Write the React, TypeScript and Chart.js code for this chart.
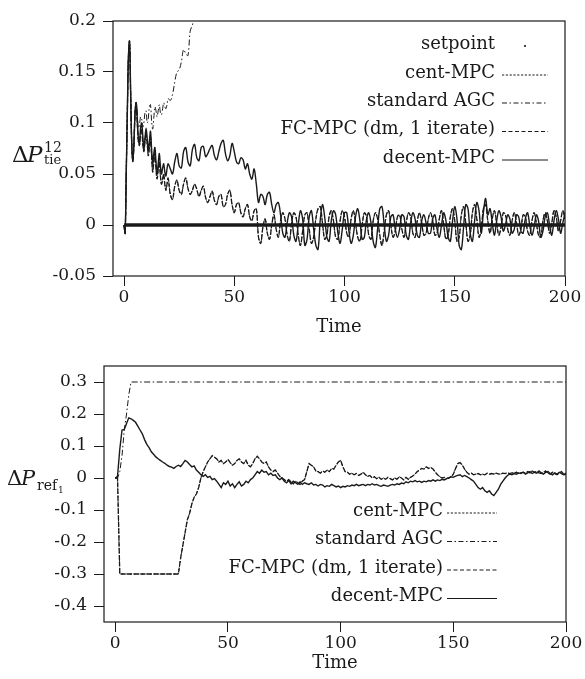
import React, { useEffect, useRef } from "react";
import { Chart, registerables } from "chart.js";
Chart.register(...registerables);

const SERIF = "'DejaVu Serif', serif";
const INK = "#1a1a1a";

// ---------------- Top chart (ΔP_tie^12) ----------------
const topXTicks = [0, 50, 100, 150, 200];
const topYTicks = [-0.05, 0, 0.05, 0.1, 0.15, 0.2];
const topYTickLabels = ["-0.05", "0", "0.05", "0.1", "0.15", "0.2"];

// early part sampled every 0.5 (t = 0 .. 20), late part every 1 (t = 21 .. )
const setpointTimes = [0, 200];
const setpointTop = [0, 0];

const decentTopEarly = [
  0, -0.008, 0.05, 0.11, 0.165, 0.18, 0.13, 0.08, 0.062, 0.08,
  0.11, 0.12, 0.105, 0.085, 0.08, 0.095, 0.1, 0.088, 0.075, 0.085,
  0.095, 0.085, 0.073, 0.082, 0.092, 0.075, 0.06, 0.07, 0.076, 0.062,
  0.05, 0.06, 0.07, 0.058, 0.05, 0.056, 0.06, 0.052, 0.048, 0.055,
  0.06,
];
const decentTopLate = [
  0.055, 0.05, 0.062, 0.07, 0.058, 0.056, 0.072, 0.076, 0.062, 0.058,
  0.074, 0.079, 0.066, 0.063, 0.076, 0.077, 0.067, 0.07, 0.075, 0.078,
  0.068, 0.064, 0.072, 0.08, 0.083, 0.07, 0.063, 0.068, 0.08, 0.072,
  0.062, 0.06, 0.066, 0.064, 0.055, 0.06, 0.05, 0.045, 0.055, 0.04,
  0.022, 0.03, 0.028, 0.02, 0.03, 0.032, 0.02, 0.012, 0.02, 0.022,
  0.01, -0.008, -0.012, 0.002, 0.012, 0.008, -0.01, -0.016, 0.0, 0.014,
  0.006, -0.02, -0.014, 0.008, 0.014, -0.004, -0.02, -0.024, 0.005, 0.02,
  0.008, -0.012, -0.016, 0.004, 0.014, 0.01, -0.008, -0.018, -0.004, 0.012,
  0.012, -0.006, -0.018, -0.01, 0.008, 0.016, 0.004, -0.014, -0.012, 0.006,
  0.012, 0.002, -0.016, -0.022, -0.004, 0.016, 0.018, 0.0, -0.016, -0.01,
  0.008, 0.01, -0.004, -0.012, -0.004, 0.01, 0.008, -0.01, -0.014, 0.002,
  0.012, 0.006, -0.01, -0.012, 0.004, 0.01, 0.002, -0.008, -0.008, 0.006,
  0.01, -0.004, -0.012, 0.0, 0.012, 0.004, -0.012, -0.016, 0.004, 0.018,
  0.006, -0.02, -0.024, -0.002, 0.02, 0.016, -0.008, -0.016, 0.004, 0.022,
  0.014, -0.008, 0.012, 0.026, 0.01, 0.016, 0.002, -0.01, 0.004, 0.014,
  0.008, -0.006, 0.0, 0.01, 0.006, -0.008, -0.004, 0.01, 0.008, -0.006,
  -0.008, 0.006, 0.012, 0.0, -0.01, -0.002, 0.01, 0.004, -0.012, -0.006,
  0.008, 0.012, 0.0, -0.01, 0.004, 0.014, 0.006, -0.008, 0.002, 0.012,
];

const fcTopEarly = [
  0, -0.008, 0.05, 0.11, 0.165, 0.18, 0.13, 0.08, 0.062, 0.08,
  0.11, 0.12, 0.1, 0.082, 0.078, 0.09, 0.094, 0.08, 0.072, 0.082,
  0.09, 0.08, 0.068, 0.076, 0.086, 0.068, 0.052, 0.062, 0.07, 0.055,
  0.045, 0.055, 0.062, 0.048, 0.04, 0.045, 0.05, 0.04, 0.034, 0.04,
  0.046,
];
const fcTopLate = [
  0.03, 0.025, 0.038, 0.044, 0.034, 0.03, 0.04, 0.046, 0.036, 0.03,
  0.034, 0.04, 0.035, 0.028, 0.034, 0.038, 0.027, 0.022, 0.028, 0.033,
  0.024, 0.02, 0.028, 0.03, 0.018, 0.02, 0.03, 0.034, 0.02, 0.012,
  0.02, 0.022, 0.012, 0.008, 0.016, 0.02, 0.008, 0.004, 0.014, 0.016,
  -0.012, -0.018, -0.002, 0.006, -0.008, -0.014, 0.0, 0.01, -0.004, -0.012,
  0.004, 0.012, 0.006, -0.01, -0.016, 0.002, 0.012, 0.008, -0.01, -0.02,
  -0.006, 0.01, 0.012, -0.004, -0.018, -0.012, 0.006, 0.016, 0.018, 0.002,
  -0.014, -0.01, 0.008, 0.014, 0.004, -0.012, -0.014, 0.004, 0.014, 0.008,
  -0.008, -0.012, 0.006, 0.014, 0.002, -0.012, -0.016, 0.0, 0.012, 0.008,
  -0.01, -0.014, 0.004, 0.012, 0.006, -0.01, -0.02, -0.006, 0.01, 0.014,
  0.0, -0.012, -0.006, 0.008, 0.01, -0.004, -0.012, 0.002, 0.012, 0.008,
  -0.008, -0.012, 0.004, 0.012, 0.002, -0.01, -0.008, 0.006, 0.012, 0.004,
  -0.01, -0.008, 0.006, 0.014, 0.0, -0.014, -0.01, 0.008, 0.016, 0.004,
  -0.016, -0.012, 0.01, 0.018, 0.002, -0.016, -0.01, 0.012, 0.02, 0.006,
  -0.012, -0.004, 0.016, 0.02, 0.004, -0.008, 0.006, 0.014, 0.002, -0.01,
  -0.002, 0.012, 0.01, -0.004, -0.01, 0.004, 0.012, 0.002, -0.01, -0.004,
  0.01, 0.008, -0.006, -0.01, 0.004, 0.012, 0.002, -0.01, -0.012, 0.004,
  0.012, 0.004, -0.008, 0.002, 0.014, 0.008, -0.006, 0.004, 0.014, 0.006,
];
// cent-MPC lies on top of FC-MPC in the figure
const centTopEarly = fcTopEarly;
const centTopLate = fcTopLate;

const agcTopEarly = [
  0, -0.008, 0.05, 0.11, 0.165, 0.18, 0.13, 0.08, 0.062, 0.08,
  0.11, 0.12, 0.108, 0.095, 0.098, 0.106, 0.104, 0.096, 0.1, 0.11,
  0.112, 0.1, 0.104, 0.116, 0.118, 0.102, 0.094, 0.105, 0.116, 0.112,
  0.106, 0.112, 0.118, 0.11, 0.108, 0.114, 0.12, 0.116, 0.114, 0.118,
  0.124,
];
const agcTopLate = [0.122, 0.128, 0.14, 0.15, 0.152, 0.16, 0.172, 0.168, 0.166, 0.19, 0.196, 0.205, 0.22, 0.24];

// ---------------- Bottom chart (ΔP_ref1) ----------------
const botXTicks = [0, 50, 100, 150, 200];
const botYTicks = [-0.4, -0.3, -0.2, -0.1, 0, 0.1, 0.2, 0.3];
const botYTickLabels = ["-0.4", "-0.3", "-0.2", "-0.1", "0", "0.1", "0.2", "0.3"];

const agcBotTimes = [0, 1, 2, 3, 4, 5, 6, 7, 200];
const agcBot = [0, 0, 0.02, 0.07, 0.15, 0.2, 0.26, 0.3, 0.3];

// sampled every 1 (t = 0 .. 200)
const fcBot = [
  0, 0, -0.3, -0.3, -0.3, -0.3, -0.3, -0.3, -0.3, -0.3,
  -0.3, -0.3, -0.3, -0.3, -0.3, -0.3, -0.3, -0.3, -0.3, -0.3,
  -0.3, -0.3, -0.3, -0.3, -0.3, -0.3, -0.3, -0.3, -0.3, -0.25,
  -0.21, -0.17, -0.13, -0.11, -0.08, -0.06, -0.05, -0.03, 0.0, 0.02,
  0.035, 0.05, 0.06, 0.07, 0.065, 0.06, 0.05, 0.055, 0.045, 0.05,
  0.058, 0.048, 0.04, 0.045, 0.055, 0.06, 0.05, 0.045, 0.055, 0.04,
  0.035, 0.045, 0.06, 0.068, 0.06, 0.05, 0.045, 0.05, 0.035, 0.025,
  0.02, 0.025, 0.015, 0.005, 0.0, -0.005, -0.01, -0.005, -0.012, -0.018,
  -0.01, -0.015, -0.02, -0.01, -0.005, 0.02, 0.045, 0.04, 0.035, 0.022,
  0.02, 0.015, 0.022, 0.018, 0.025, 0.02, 0.03, 0.028, 0.04, 0.05,
  0.055, 0.035, 0.02, 0.018, 0.012, 0.015, 0.01, 0.014, 0.008, 0.012,
  0.018, 0.01, 0.005, 0.008, 0.0, 0.004, -0.002, 0.002, -0.004, 0.0,
  -0.004, 0.002, -0.002, -0.006, 0.0, -0.004, 0.004, 0.0, -0.006, 0.002,
  -0.004, 0.002, 0.006, 0.012, 0.02, 0.025, 0.03, 0.028, 0.035, 0.03,
  0.033, 0.028, 0.018, 0.01, 0.004, 0.0, 0.002, -0.002, 0.0, 0.004,
  0.012, 0.03, 0.045, 0.048, 0.04, 0.028, 0.018, 0.012, 0.015, 0.01,
  0.012, 0.014, 0.01, 0.012, 0.01, 0.015, 0.012, 0.014, 0.012, 0.015,
  0.013, 0.012, 0.015, 0.014, 0.016, 0.014, 0.016, 0.015, 0.018, 0.014,
  0.016, 0.018, 0.015, 0.02, 0.016, 0.022, 0.018, 0.02, 0.016, 0.014,
  0.018, 0.022, 0.015, 0.012, 0.018, 0.014, 0.01, 0.016, 0.02, 0.012,
  0.015,
];
const centBot = fcBot;

const decentBot = [
  0, 0.005, 0.09, 0.15, 0.152, 0.17, 0.188, 0.185, 0.18, 0.174,
  0.162, 0.15, 0.138, 0.12, 0.105, 0.095, 0.082, 0.074, 0.066, 0.06,
  0.055, 0.05, 0.046, 0.04, 0.036, 0.034, 0.03, 0.036, 0.04, 0.036,
  0.045, 0.055, 0.05, 0.042, 0.035, 0.038, 0.025, 0.018, 0.01, 0.005,
  0.01, 0.002, 0.005, -0.005, -0.002, -0.01, -0.02, -0.03, -0.015, -0.02,
  -0.01, -0.025, -0.018, -0.03, -0.02, -0.012, -0.025, -0.02, -0.01, -0.015,
  -0.005, 0.0, 0.01, 0.02, 0.015, 0.025, 0.018, 0.02, 0.01, 0.015,
  0.008, 0.01, 0.0, -0.005, 0.0, -0.01, -0.015, -0.008, -0.018, -0.01,
  -0.015, -0.02, -0.012, -0.02, -0.015, -0.018, -0.02, -0.015, -0.022, -0.02,
  -0.025, -0.02, -0.022, -0.028, -0.024, -0.026, -0.02, -0.024, -0.028, -0.025,
  -0.03, -0.026, -0.028, -0.024, -0.026, -0.022, -0.024, -0.02, -0.024, -0.022,
  -0.02, -0.024, -0.02, -0.022, -0.018, -0.022, -0.02, -0.024, -0.026, -0.022,
  -0.024, -0.026, -0.022, -0.02, -0.022, -0.018, -0.02, -0.016, -0.018, -0.012,
  -0.015, -0.01, -0.012, -0.008, -0.012, -0.01, -0.014, -0.01, -0.012, -0.008,
  -0.01, -0.006, -0.01, -0.006, -0.008, -0.004, -0.006, -0.002, 0.0, 0.004,
  0.002, 0.006, 0.008, 0.01, 0.004, 0.008, 0.004, 0.0, -0.005, -0.01,
  -0.02, -0.03, -0.035, -0.03, -0.04, -0.045, -0.04, -0.05, -0.055, -0.045,
  -0.035, -0.02, -0.01, 0.0, 0.008, 0.012, 0.01, 0.014, 0.012, 0.016,
  0.014, 0.018, 0.012, 0.016, 0.02, 0.014, 0.018, 0.015, 0.022, 0.016,
  0.012, 0.018, 0.02, 0.014, 0.01, 0.016, 0.012, 0.018, 0.014, 0.01,
  0.012,
];

// ---------------- helpers ----------------
const splitPts = (early: number[], late: number[]) => [
  ...early.map((y, i) => ({ x: i * 0.5, y })),
  ...late.map((y, i) => ({ x: 21 + i, y })),
];
const unitPts = (vals: number[]) => vals.map((y, i) => ({ x: i, y }));
const zipPts = (xs: number[], ys: number[]) => xs.map((x, i) => ({ x, y: ys[i] }));

type LegendCfg = { rows: number[]; textRight: number; sampleLeft: number; sampleRight: number };
type TitlePiece = { text: string; size: number; italic?: boolean; x: number; y: number };

const decorPlugin = {
  id: "decor",
  afterDraw(chart: any) {
    const { ctx, chartArea: a } = chart;
    const o = chart.options.plugins.decor;
    ctx.save();
    // frame
    ctx.strokeStyle = INK;
    ctx.lineWidth = 1.2;
    ctx.setLineDash([]);
    ctx.strokeRect(a.left, a.top, a.right - a.left, a.bottom - a.top);
    // legend
    const lg: LegendCfg = o.legend;
    const items = chart.data.datasets.filter((d: any) => d.inLegend);
    items.sort((p: any, q: any) => p.legendIndex - q.legendIndex);
    ctx.font = `18px ${SERIF}`;
    ctx.fillStyle = INK;
    ctx.textAlign = "right";
    ctx.textBaseline = "middle";
    items.forEach((d: any, i: number) => {
      const y = a.top + lg.rows[i];
      ctx.fillText(d.label, a.right - lg.textRight, y + 1);
      if (d.legendDot) {
        ctx.beginPath();
        ctx.arc(a.right - (lg.sampleLeft + lg.sampleRight) / 2, y + 3, 1.1, 0, Math.PI * 2);
        ctx.fill();
      } else {
        ctx.beginPath();
        ctx.setLineDash(d.legendDash || []);
        ctx.lineWidth = 1;
        ctx.strokeStyle = INK;
        ctx.moveTo(a.right - lg.sampleLeft, y + 3);
        ctx.lineTo(a.right - lg.sampleRight, y + 3);
        ctx.stroke();
        ctx.setLineDash([]);
      }
    });
    // y-axis title with sub/superscripts
    const pieces: TitlePiece[] = o.title;
    ctx.textAlign = "left";
    ctx.textBaseline = "alphabetic";
    pieces.forEach((p) => {
      ctx.font = `${p.italic ? "italic " : ""}${p.size}px ${SERIF}`;
      ctx.fillText(p.text, p.x, p.y);
    });
    ctx.restore();
  },
};

function makeOptions(p: {
  xMin: number; xMax: number; yMin: number; yMax: number;
  xTicks: number[]; yTicks: number[]; yLabels: string[];
  left: number; right: number; top: number; xAxisH: number;
  legend: LegendCfg; title: TitlePiece[];
}) {
  const tickFont = { family: SERIF, size: 17 };
  return {
    animation: false,
    responsive: false,
    maintainAspectRatio: false,
    layout: { padding: { left: 0, right: p.right, top: p.top, bottom: 0 } },
    elements: { point: { radius: 0 } },
    plugins: {
      legend: { display: false },
      tooltip: { enabled: false },
      decor: { legend: p.legend, title: p.title },
    },
    scales: {
      x: {
        type: "linear",
        min: p.xMin,
        max: p.xMax,
        afterBuildTicks: (s: any) => { s.ticks = p.xTicks.map((v) => ({ value: v })); },
        afterFit: (s: any) => { s.height = p.xAxisH; },
        grid: { drawOnChartArea: false, drawTicks: true, tickLength: 10, color: INK, lineWidth: 1 },
        border: { display: false },
        ticks: { font: tickFont, color: INK, padding: 1, maxRotation: 0, autoSkip: false, callback: (v: any) => String(v) },
        title: { display: true, text: "Time", font: { family: SERIF, size: 18 }, color: INK, padding: { top: 0, bottom: 0 } },
      },
      y: {
        type: "linear",
        min: p.yMin,
        max: p.yMax,
        afterBuildTicks: (s: any) => { s.ticks = p.yTicks.map((v) => ({ value: v })); },
        afterFit: (s: any) => { s.width = p.left; },
        grid: { drawOnChartArea: false, drawTicks: true, tickLength: 10, color: INK, lineWidth: 1 },
        border: { display: false },
        ticks: {
          font: tickFont, color: INK, padding: 7, autoSkip: false,
          callback: (v: any) => { const i = p.yTicks.indexOf(v); return i >= 0 ? p.yLabels[i] : ""; },
        },
      },
    },
  } as any;
}

const DASH_CENT = [2, 2];
const DASH_AGC = [6, 2.5, 1.5, 2.5];
const DASH_FC = [5, 1.6];

function topConfig() {
  return {
    type: "line",
    data: {
      datasets: [
        { label: "setpoint", data: zipPts(setpointTimes, setpointTop), borderColor: INK, borderWidth: 3.6, inLegend: true, legendIndex: 0, legendDot: true },
        { label: "decent-MPC", data: splitPts(decentTopEarly, decentTopLate), borderColor: INK, borderWidth: 1.4, tension: 0.35, inLegend: true, legendIndex: 4, legendDash: [] },
        { label: "FC-MPC (dm, 1 iterate)", data: splitPts(fcTopEarly, fcTopLate), borderColor: INK, borderWidth: 1.3, borderDash: DASH_FC, tension: 0.35, inLegend: true, legendIndex: 3, legendDash: [4, 2.5] },
        { label: "cent-MPC", data: splitPts(centTopEarly, centTopLate), borderColor: INK, borderWidth: 1, borderDash: DASH_CENT, tension: 0.35, inLegend: true, legendIndex: 1, legendDash: [2.2, 1.6] },
        { label: "standard AGC", data: splitPts(agcTopEarly, agcTopLate), borderColor: INK, borderWidth: 1, borderDash: DASH_AGC, tension: 0.35, inLegend: true, legendIndex: 2, legendDash: [5, 2.5, 1.5, 2.5] },
      ].map((d) => ({ ...d, fill: false, pointRadius: 0, clip: 0 })),
    },
    options: makeOptions({
      xMin: -5, xMax: 200, yMin: -0.05, yMax: 0.2,
      xTicks: topXTicks, yTicks: topYTicks, yLabels: topYTickLabels,
      left: 113, right: 20, top: 21, xAxisH: 62,
      legend: { rows: [22, 51, 79, 107.5, 136], textRight: 70, sampleLeft: 63, sampleRight: 17 },
      title: [
        { text: "Δ", size: 23, x: 12, y: 162 },
        { text: "P", size: 23, italic: true, x: 27, y: 162 },
        { text: "12", size: 14, x: 44, y: 152 },
        { text: "tie", size: 13, x: 44, y: 164 },
      ],
    }),
    plugins: [decorPlugin],
  } as any;
}

function bottomConfig() {
  return {
    type: "line",
    data: {
      datasets: [
        { label: "decent-MPC", data: unitPts(decentBot), borderColor: INK, borderWidth: 1.4, inLegend: true, legendIndex: 3, legendDash: [] },
        { label: "FC-MPC (dm, 1 iterate)", data: unitPts(fcBot), borderColor: INK, borderWidth: 1.3, borderDash: DASH_FC, inLegend: true, legendIndex: 2, legendDash: [4, 2.5] },
        { label: "cent-MPC", data: unitPts(centBot), borderColor: INK, borderWidth: 1, borderDash: DASH_CENT, inLegend: true, legendIndex: 0, legendDash: [2.2, 1.6] },
        { label: "standard AGC", data: zipPts(agcBotTimes, agcBot), borderColor: INK, borderWidth: 1, borderDash: DASH_AGC, inLegend: true, legendIndex: 1, legendDash: [5, 2.5, 1.5, 2.5] },
      ].map((d) => ({ ...d, fill: false, pointRadius: 0, clip: 0, tension: 0 })),
    },
    options: makeOptions({
      xMin: -5, xMax: 200, yMin: -0.45, yMax: 0.35,
      xTicks: botXTicks, yTicks: botYTicks, yLabels: botYTickLabels,
      left: 104, right: 19, top: 28, xAxisH: 52,
      legend: { rows: [144, 172.5, 201, 229.5], textRight: 123, sampleLeft: 119, sampleRight: 69 },
      title: [
        { text: "Δ", size: 21, x: 7, y: 147 },
        { text: "P", size: 21, italic: true, x: 21, y: 147 },
        { text: "ref", size: 14, x: 37, y: 152 },
        { text: "1", size: 9, x: 58, y: 155 },
      ],
    }),
    plugins: [decorPlugin],
  } as any;
}

function ChartCanvas({ config, width, height, top }: { config: () => any; width: number; height: number; top: number }) {
  const ref = useRef<HTMLCanvasElement | null>(null);
  useEffect(() => {
    if (!ref.current) return;
    const chart = new Chart(ref.current, config());
    return () => chart.destroy();
  }, [config]);
  return (
    <canvas
      ref={ref}
      width={width}
      height={height}
      style={{ position: "absolute", left: 0, top, width, height, display: "block" }}
    />
  );
}

export default function App() {
  return (
    <div style={{ position: "absolute", left: 0, top: 0, width: 585, height: 679, background: "#fff" }}>
      <ChartCanvas config={topConfig} width={585} height={338} top={0} />
      <ChartCanvas config={bottomConfig} width={585} height={336} top={338} />
    </div>
  );
}
